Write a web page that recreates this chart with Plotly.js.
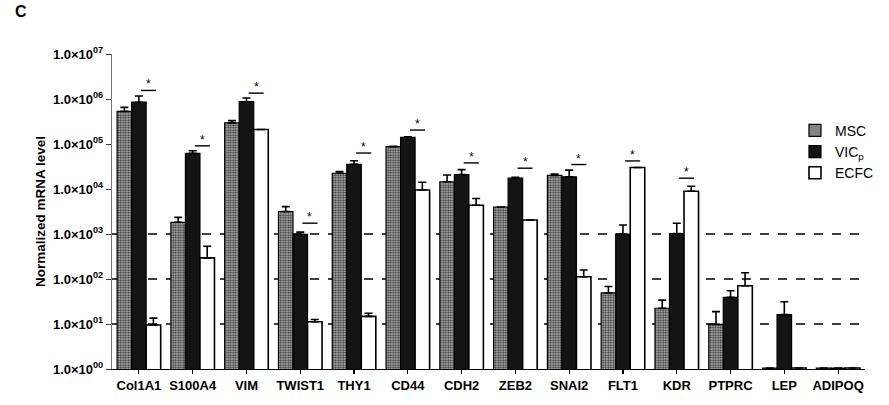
<!DOCTYPE html>
<html><head><meta charset="utf-8">
<script src="https://cdn.plot.ly/plotly-3.0.1.min.js"></script>
<style>html,body{margin:0;padding:0;background:#fff}#chart{width:889px;height:405px}</style>
</head><body><div id="chart"></div>
<script>
const genes = ["Col1A1","S100A4","VIM","TWIST1","THY1","CD44","CDH2","ZEB2","SNAI2","FLT1","KDR","PTPRC","LEP","ADIPOQ"];
const mscVals  = [5.3e5, 1820, 2.95e5, 3160, 2.24e4, 8.7e4, 1.45e4, 3980, 2.0e4, 49, 22.4, 9.8, 1.05, 1.05];
const mscErr   = [1.2e5, 520, 3.5e4, 900, 2100, 2000, 5900, 0, 1400, 19, 11.6, 9, 0, 0];
const vicVals  = [8.5e5, 6.2e4, 8.7e5, 980, 3.55e4, 1.41e5, 2.09e4, 1.74e4, 1.86e4, 1000, 1020, 39, 16.2, 1.05];
const vicErr   = [3.2e5, 9000, 1.8e5, 120, 7000, 3000, 6000, 800, 7700, 580, 720, 16, 15, 0];
const ecfcVals = [9.5, 295, 2.1e5, 11.2, 14.8, 9500, 4370, 2040, 112, 3.0e4, 8900, 71, 1.05, 1.05];
const ecfcErr  = [4, 240, 0, 1.4, 2.6, 4600, 1800, 0, 46, 0, 2600, 67, 0, 0];
// significance bars (VICp vs ECFC): gene index and level
const sigIdx = [0, 1, 2, 3, 4, 5, 6, 7, 8, 9, 10];
const sigLevel = [1.55e6, 9.1e4, 1.35e6, 1740, 6.3e4, 2.04e5, 3.8e4, 2.9e4, 3.5e4, 4.2e4, 1.74e4];
const yTickVals = [1, 10, 100, 1000, 1e4, 1e5, 1e6, 1e7];
const yTickText = ["00","01","02","03","04","05","06","07"].map(e => "1.0×10<sup>" + e + "</sup>");
const dashedLevels = [10, 100, 1000];

const FONT = "Liberation Sans, Arial, sans-serif";
const errStyle = (arr) => ({type:"data", symmetric:false, array:arr, arrayminus:arr.map(()=>0), color:"#000", thickness:1.6, width:4});

const traces = [
  {type:"bar", name:"MSC", x:genes, y:mscVals, error_y:errStyle(mscErr),
   marker:{color:"#9a9a9a", line:{color:"#000", width:1.2}, pattern:{shape:".", fgcolor:"#333", bgcolor:"#c4c4c4", size:2.5, solidity:0.5}}},
  {type:"bar", name:"VIC<sub>p</sub>", x:genes, y:vicVals, error_y:errStyle(vicErr),
   marker:{color:"#141414", line:{color:"#000", width:1.2}}},
  {type:"bar", name:"ECFC", x:genes, y:ecfcVals, error_y:errStyle(ecfcErr),
   marker:{color:"#ffffff", line:{color:"#000", width:1.6}}}
];

const shapes = dashedLevels.map(v => ({type:"line", xref:"paper", yref:"y", x0:0, x1:1, y0:v, y1:v, layer:"below",
  line:{color:"#000", width:1.3, dash:"dash"}}));
const annotations = [
  {text:"<b>C</b>", xref:"paper", yref:"paper", x:-0.132, y:1.135, xanchor:"left", yanchor:"middle", showarrow:false, font:{family:FONT, size:16, color:"#000"}}
];
sigIdx.forEach((gi, k) => {
  shapes.push({type:"line", xref:"x", yref:"y", x0:gi+0.04, x1:gi+0.32, y0:sigLevel[k], y1:sigLevel[k], line:{color:"#000", width:1.4}});
  annotations.push({text:"*", xref:"x", yref:"y", x:gi+0.18, y:Math.log10(sigLevel[k]), yshift:-3, xanchor:"center", yanchor:"bottom", showarrow:false, font:{family:FONT, size:12, color:"#000"}});
});

const layout = {
  width:889, height:405,
  margin:{l:112, r:10, t:54, b:36},
  paper_bgcolor:"#fff", plot_bgcolor:"#fff",
  barmode:"group", bargap:0.19, bargroupgap:0,
  font:{family:FONT, color:"#000"},
  xaxis:{type:"category", range:[-0.5, 13.5], showline:true, linecolor:"#000", linewidth:1.3,
    ticks:"outside", ticklen:4, tickcolor:"#000", tickwidth:1.2,
    tickfont:{family:FONT, size:13, weight:700, color:"#000"}, showgrid:false, zeroline:false},
  yaxis:{type:"log", range:[0, 7], showline:true, linecolor:"#777", linewidth:1.2,
    ticks:"outside", ticklen:5, tickcolor:"#333", tickwidth:1,
    tickvals:yTickVals, ticktext:yTickText, showgrid:false, zeroline:false,
    tickfont:{family:FONT, size:13, weight:700, color:"#000"},
    title:{text:"Normalized mRNA level", font:{family:FONT, size:13.5, weight:700, color:"#000"}, standoff:4}},
  legend:{x:0.907, y:0.807, xanchor:"left", yanchor:"top", font:{family:FONT, size:14, color:"#000"},
    bgcolor:"rgba(0,0,0,0)", tracegroupgap:0, itemwidth:30},
  shapes:shapes, annotations:annotations, showlegend:true
};
Plotly.newPlot("chart", traces, layout, {displayModeBar:false, staticPlot:true});
</script></body></html>
